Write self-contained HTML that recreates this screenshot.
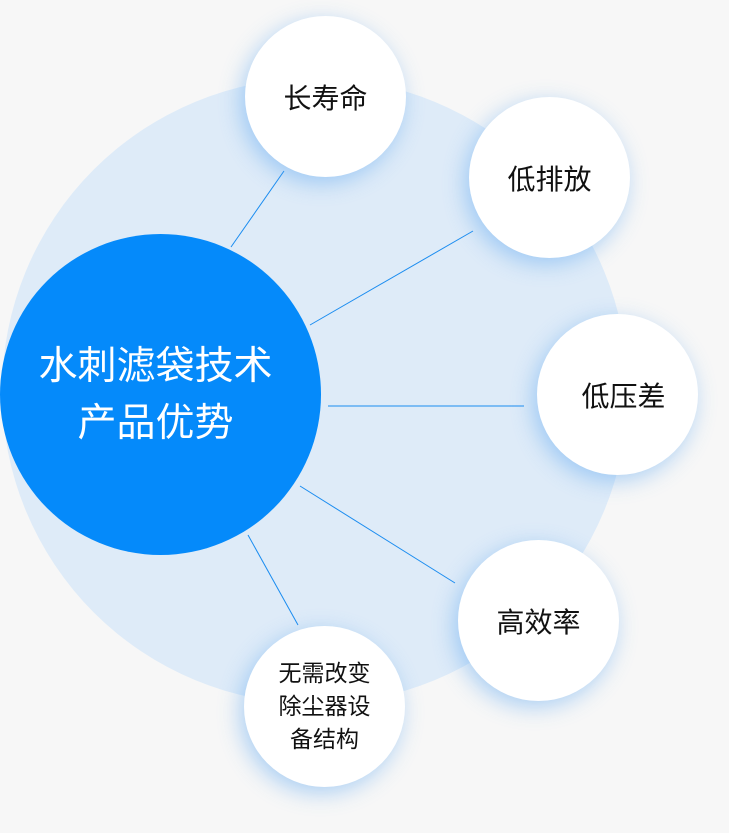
<!DOCTYPE html>
<html><head><meta charset="utf-8"><style>
html,body{margin:0;padding:0;}
body{width:729px;height:833px;background:#f7f7f7;position:relative;overflow:hidden;font-family:"Liberation Sans","Noto Sans CJK SC",sans-serif;}
.c{position:absolute;border-radius:50%;display:flex;align-items:center;justify-content:center;text-align:center;}
.s{width:161px;height:161px;background:#fff;box-shadow:-4px 6px 22px rgba(80,160,240,0.45);font-size:28px;color:#111;}
svg{position:absolute;left:0;top:0;}
</style></head><body>
<div class="c" style="left:2px;top:78px;width:626px;height:626px;background:#deebf8;"></div>
<svg width="729" height="833">
<g stroke="#1a8cf0" stroke-width="1">
<line x1="231" y1="247" x2="284" y2="171"/>
<line x1="310" y1="325" x2="473" y2="231"/>
<line x1="328" y1="406" x2="524" y2="406"/>
<line x1="300" y1="486" x2="455" y2="583"/>
<line x1="248" y1="535" x2="298" y2="625"/>
</g></svg>
<div class="c" style="left:0;top:234px;width:311px;height:321px;background:transparent;"></div>
<div class="c" style="left:0;top:234px;width:321px;height:321px;background:#058afa;"></div>
<div class="c" style="left:0;top:234px;width:311px;height:321px;color:#fff;font-size:39px;line-height:57px;">水刺滤袋技术<br>产品优势</div>
<div class="c s" style="left:245px;top:16px;">长寿命</div>
<div class="c s" style="left:469px;top:97px;">低排放</div>
<div class="c s" style="left:537px;top:314px;padding-left:12px;box-sizing:border-box;">低压差</div>
<div class="c s" style="left:458px;top:540px;">高效率</div>
<div class="c s" style="left:244px;top:626px;font-size:23px;line-height:33px;">无需改变<br>除尘器设<br>备结构</div>
</body></html>
